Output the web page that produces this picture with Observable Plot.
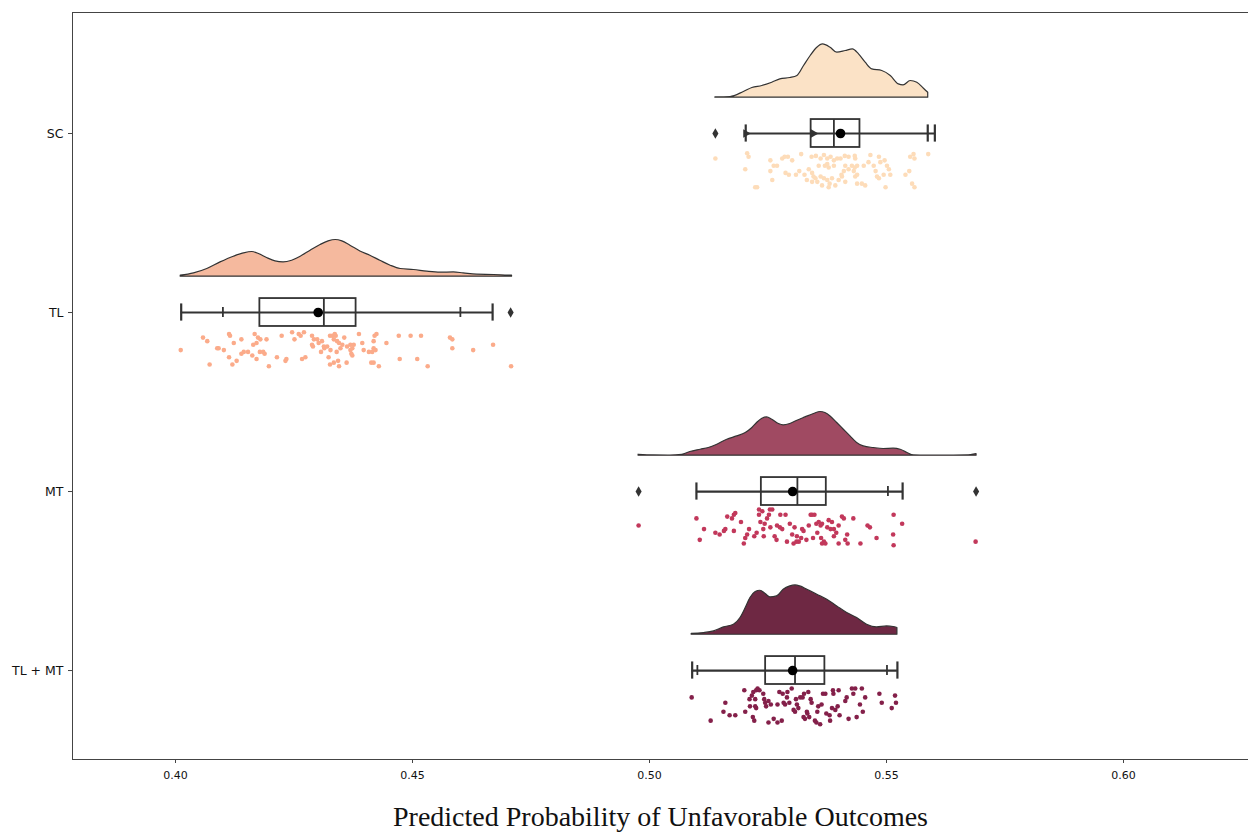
<!DOCTYPE html>
<html><head><meta charset="utf-8">
<script src="https://cdn.jsdelivr.net/npm/d3@7"></script>
<script src="https://cdn.jsdelivr.net/npm/@observablehq/plot@0.6"></script>
<style>body{margin:0;background:#fff;}</style>
</head><body><div id="chart"></div>
<script>
const categories = ["SC", "TL", "MT", "TL + MT"];
const violinFills = ["#fbe2c6", "#f5b99e", "#a04a62", "#6e2843"];
const dotColors = ["#fddcb9", "#fbab8a", "#c2385b", "#84204a"];
const xTicks = [0.40, 0.45, 0.50, 0.55, 0.60];
const xLabel = "Predicted Probability of Unfavorable Outcomes";

// box statistics
const q1 = [0.5341, 0.4178, 0.5236, 0.5245];
const median = [0.5389, 0.4313, 0.5312, 0.5307];
const q3 = [0.5444, 0.4381, 0.5373, 0.5370];
const mean = [0.5403, 0.4301, 0.5302, 0.5302];
const whiskerLow = [0.5203, 0.4012, 0.5099, 0.5090];
const whiskerHigh = [0.5602, 0.4669, 0.5534, 0.5523];
const secondCaps = [["SC", 0.5587]];
const innerTicks = [["TL", 0.4100], ["TL", 0.4601], ["MT", 0.5503], ["TL + MT", 0.5101], ["TL + MT", 0.5501]];
const outliers = [["SC", 0.5139], ["TL", 0.4707], ["MT", 0.4977], ["MT", 0.5689]];
const triangleMarks = [["SC", 0.5203], ["SC", 0.5346]];

// half-violin density curves [value, density]
const scDensity = [[0.5139,0.3],[0.5171,0.7],[0.5199,5.7],[0.5217,9.7],[0.5238,11.7],[0.5259,15],[0.5276,18.3],[0.5297,19.7],[0.5312,21.7],[0.5326,31.7],[0.5340,41.7],[0.5354,50],[0.5366,53.3],[0.5382,50],[0.5396,45],[0.5414,46.7],[0.5429,48.3],[0.5442,43.3],[0.5456,35],[0.5470,28.3],[0.5491,26.7],[0.5509,21.7],[0.5526,13.3],[0.5536,12.3],[0.5551,16.7],[0.5565,15],[0.5579,9],[0.5588,5]];
const tlDensity = [[0.4011,1],[0.4039,3.3],[0.4067,7.7],[0.4095,14.3],[0.4123,20],[0.4144,23.3],[0.4162,24.7],[0.4176,22.7],[0.4193,18.7],[0.4211,15.3],[0.4228,14.3],[0.4246,16],[0.4264,20],[0.4285,26],[0.4306,31.7],[0.4323,35.3],[0.4338,36.7],[0.4352,35.3],[0.4369,31],[0.4390,25.3],[0.4411,21],[0.4432,16],[0.4454,11],[0.4475,7.7],[0.4503,6.7],[0.4531,5],[0.4559,4],[0.4587,4.3],[0.4608,3.3],[0.4636,2],[0.4672,1.7],[0.4710,1]];
const mtDensity = [[0.4977,1],[0.5009,0.3],[0.5044,0.2],[0.5069,1],[0.5086,3.7],[0.5108,6],[0.5125,7.7],[0.5143,11],[0.5164,16],[0.5185,19.3],[0.5203,22.7],[0.5217,27.7],[0.5227,32.7],[0.5238,37],[0.5248,38.3],[0.5259,36],[0.5273,31.7],[0.5283,30.3],[0.5297,31.7],[0.5312,35],[0.5329,38.3],[0.5347,41.7],[0.5361,43.7],[0.5371,42.7],[0.5382,39.3],[0.5396,32.7],[0.5410,26],[0.5424,19.3],[0.5438,12.7],[0.5452,9.3],[0.5473,7.7],[0.5494,6.7],[0.5515,7],[0.5530,6],[0.5544,2.7],[0.5558,0.3],[0.5572,0.2],[0.5607,0.2],[0.5642,0.2],[0.5670,0.3],[0.5690,1.7]];
const tlmtDensity = [[0.5089,1],[0.5115,1.7],[0.5136,3.3],[0.5157,7.3],[0.5178,10],[0.5192,16.7],[0.5203,26.7],[0.5213,36.7],[0.5224,42.7],[0.5234,44],[0.5245,40.7],[0.5255,37.3],[0.5269,38.3],[0.5283,45],[0.5297,48.3],[0.5308,49.3],[0.5318,48.3],[0.5333,45],[0.5354,40],[0.5375,35],[0.5396,28.3],[0.5417,21.7],[0.5438,16.7],[0.5459,10],[0.5480,7.3],[0.5501,8.3],[0.5515,7.7],[0.5523,6.7]];

// strip points [value, jitter]
const scPoints = [[0.5139,0.14],[0.5206,0.11],[0.5209,0.13],[0.5202,0.20],[0.5227,0.30],[0.5223,0.30],[0.5255,0.15],[0.5262,0.18],[0.5269,0.18],[0.5255,0.21],[0.5259,0.26],[0.5280,0.14],[0.5285,0.13],[0.5292,0.13],[0.5301,0.15],[0.5287,0.22],[0.5294,0.23],[0.5309,0.23],[0.5320,0.115],[0.5316,0.21],[0.5342,0.13],[0.5351,0.125],[0.5361,0.14],[0.5368,0.12],[0.5375,0.14],[0.5382,0.13],[0.5389,0.15],[0.5396,0.14],[0.5403,0.14],[0.5412,0.125],[0.5420,0.13],[0.5433,0.125],[0.5434,0.14],[0.5357,0.18],[0.5370,0.18],[0.5375,0.17],[0.5378,0.19],[0.5389,0.18],[0.5336,0.20],[0.5343,0.22],[0.5346,0.24],[0.5350,0.25],[0.5354,0.27],[0.5343,0.27],[0.5332,0.26],[0.5327,0.23],[0.5361,0.24],[0.5368,0.25],[0.5375,0.26],[0.5380,0.28],[0.5385,0.25],[0.5364,0.29],[0.5378,0.30],[0.5392,0.29],[0.5399,0.26],[0.5405,0.23],[0.5410,0.21],[0.5413,0.18],[0.5420,0.20],[0.5427,0.18],[0.5433,0.19],[0.5438,0.18],[0.5431,0.21],[0.5434,0.24],[0.5438,0.23],[0.5413,0.27],[0.5406,0.24],[0.5438,0.28],[0.5448,0.28],[0.5455,0.29],[0.5452,0.18],[0.5462,0.16],[0.5466,0.12],[0.5473,0.18],[0.5477,0.21],[0.5480,0.24],[0.5484,0.13],[0.5487,0.16],[0.5496,0.15],[0.5501,0.18],[0.5505,0.20],[0.5508,0.23],[0.5494,0.23],[0.5484,0.25],[0.5498,0.30],[0.5540,0.23],[0.5548,0.21],[0.5550,0.13],[0.5557,0.115],[0.5559,0.14],[0.5554,0.28],[0.5559,0.30],[0.5588,0.115]];
const tlPoints = [[0.4011,0.21],[0.4058,0.14],[0.4067,0.16],[0.4072,0.29],[0.4088,0.20],[0.4091,0.20],[0.4102,0.21],[0.4113,0.12],[0.4115,0.13],[0.4113,0.25],[0.4123,0.17],[0.4120,0.29],[0.4129,0.27],[0.4139,0.15],[0.4139,0.23],[0.4144,0.22],[0.4153,0.22],[0.4162,0.24],[0.4164,0.18],[0.4167,0.12],[0.4171,0.17],[0.4174,0.14],[0.4179,0.15],[0.4178,0.22],[0.4185,0.22],[0.4188,0.23],[0.4171,0.26],[0.4192,0.15],[0.4197,0.30],[0.4214,0.25],[0.4224,0.13],[0.4234,0.26],[0.4232,0.27],[0.4246,0.11],[0.4251,0.15],[0.4260,0.12],[0.4264,0.13],[0.4271,0.11],[0.4267,0.26],[0.4274,0.25],[0.4288,0.13],[0.4292,0.15],[0.4299,0.15],[0.4290,0.19],[0.4288,0.18],[0.4302,0.17],[0.4309,0.16],[0.4313,0.19],[0.4314,0.20],[0.4307,0.22],[0.4320,0.19],[0.4326,0.13],[0.4331,0.13],[0.4334,0.15],[0.4338,0.13],[0.4336,0.12],[0.4341,0.16],[0.4345,0.17],[0.4348,0.20],[0.4352,0.18],[0.4356,0.14],[0.4362,0.19],[0.4369,0.18],[0.4373,0.20],[0.4376,0.18],[0.4369,0.21],[0.4371,0.23],[0.4373,0.24],[0.4340,0.22],[0.4327,0.21],[0.4323,0.25],[0.4326,0.29],[0.4334,0.28],[0.4345,0.30],[0.4343,0.27],[0.4361,0.28],[0.4387,0.12],[0.4394,0.17],[0.4397,0.21],[0.4408,0.22],[0.4415,0.22],[0.4418,0.16],[0.4420,0.13],[0.4424,0.12],[0.4418,0.20],[0.4422,0.21],[0.4413,0.28],[0.4418,0.28],[0.4429,0.30],[0.4445,0.17],[0.4471,0.13],[0.4473,0.26],[0.4496,0.13],[0.4510,0.26],[0.4518,0.13],[0.4532,0.30],[0.4579,0.14],[0.4584,0.15],[0.4584,0.20],[0.4628,0.21],[0.4670,0.18],[0.4708,0.30]];
const mtPoints = [[0.4977,0.19],[0.5099,0.15],[0.5106,0.27],[0.5115,0.21],[0.5139,0.23],[0.5148,0.24],[0.5157,0.22],[0.5160,0.21],[0.5164,0.14],[0.5174,0.15],[0.5178,0.13],[0.5181,0.12],[0.5178,0.22],[0.5193,0.17],[0.5202,0.26],[0.5206,0.24],[0.5210,0.21],[0.5199,0.29],[0.5221,0.25],[0.5226,0.23],[0.5231,0.13],[0.5231,0.10],[0.5238,0.11],[0.5234,0.17],[0.5240,0.21],[0.5243,0.18],[0.5241,0.25],[0.5248,0.15],[0.5252,0.13],[0.5254,0.10],[0.5259,0.10],[0.5255,0.20],[0.5264,0.25],[0.5268,0.27],[0.5269,0.19],[0.5275,0.20],[0.5280,0.21],[0.5276,0.13],[0.5287,0.13],[0.5290,0.28],[0.5296,0.18],[0.5301,0.24],[0.5306,0.20],[0.5304,0.29],[0.5310,0.28],[0.5315,0.28],[0.5311,0.25],[0.5322,0.21],[0.5325,0.22],[0.5320,0.26],[0.5331,0.27],[0.5336,0.19],[0.5340,0.13],[0.5343,0.13],[0.5348,0.13],[0.5345,0.26],[0.5352,0.18],[0.5354,0.23],[0.5357,0.17],[0.5361,0.19],[0.5364,0.18],[0.5362,0.26],[0.5368,0.28],[0.5364,0.29],[0.5371,0.29],[0.5375,0.20],[0.5378,0.16],[0.5382,0.21],[0.5385,0.17],[0.5389,0.25],[0.5389,0.21],[0.5394,0.23],[0.5399,0.19],[0.5399,0.29],[0.5406,0.14],[0.5410,0.15],[0.5413,0.27],[0.5417,0.24],[0.5418,0.29],[0.5430,0.15],[0.5445,0.29],[0.5460,0.19],[0.5465,0.20],[0.5479,0.26],[0.5515,0.13],[0.5514,0.24],[0.5515,0.30],[0.5533,0.18],[0.5688,0.28]];
const tlmtPoints = [[0.5089,0.15],[0.5129,0.28],[0.5156,0.23],[0.5160,0.18],[0.5169,0.25],[0.5181,0.25],[0.5202,0.23],[0.5200,0.11],[0.5211,0.16],[0.5212,0.20],[0.5216,0.14],[0.5218,0.26],[0.5221,0.28],[0.5219,0.12],[0.5223,0.16],[0.5225,0.11],[0.5228,0.10],[0.5232,0.11],[0.5225,0.21],[0.5223,0.20],[0.5240,0.13],[0.5242,0.16],[0.5244,0.18],[0.5246,0.20],[0.5251,0.17],[0.5251,0.29],[0.5256,0.19],[0.5262,0.27],[0.5270,0.29],[0.5270,0.19],[0.5274,0.12],[0.5279,0.28],[0.5281,0.13],[0.5283,0.18],[0.5286,0.19],[0.5290,0.15],[0.5291,0.12],[0.5300,0.10],[0.5295,0.18],[0.5304,0.22],[0.5307,0.23],[0.5309,0.16],[0.5311,0.19],[0.5314,0.21],[0.5318,0.15],[0.5323,0.15],[0.5326,0.13],[0.5325,0.26],[0.5328,0.27],[0.5332,0.23],[0.5333,0.24],[0.5335,0.12],[0.5337,0.26],[0.5340,0.16],[0.5342,0.18],[0.5349,0.28],[0.5352,0.29],[0.5354,0.23],[0.5356,0.20],[0.5360,0.30],[0.5363,0.19],[0.5366,0.13],[0.5371,0.13],[0.5373,0.24],[0.5380,0.25],[0.5381,0.28],[0.5385,0.21],[0.5387,0.11],[0.5388,0.13],[0.5392,0.22],[0.5397,0.20],[0.5399,0.11],[0.5401,0.25],[0.5413,0.17],[0.5416,0.15],[0.5420,0.27],[0.5427,0.10],[0.5430,0.13],[0.5434,0.10],[0.5437,0.26],[0.5444,0.19],[0.5448,0.10],[0.5450,0.23],[0.5455,0.15],[0.5485,0.13],[0.5490,0.18],[0.5511,0.21],[0.5518,0.14],[0.5520,0.18]];

// layout constants (category units)
const VIOLIN_BASE = -0.2, DENS_K = 1 / 179, BOX_HALF = 0.078, CAP_HALF = 0.048, TICK_HALF = 0.028;

const densities = [scDensity, tlDensity, mtDensity, tlmtDensity];
const pointsAll = [scPoints, tlPoints, mtPoints, tlmtPoints];
const groups = categories.map((c, i) => ({cat: c, idx: i, q1: q1[i], median: median[i], q3: q3[i], mean: mean[i], lo: whiskerLow[i], hi: whiskerHigh[i]}));
const idxOf = c => categories.indexOf(c);

const marks = [];
densities.forEach((dens, i) => {
  const data = dens.map(([x, d]) => ({x, d, idx: i}));
  marks.push(Plot.areaY(data, {x: "x", y1: d => d.idx + VIOLIN_BASE, y2: d => d.idx + VIOLIN_BASE - d.d * DENS_K,
    fill: violinFills[i], stroke: "#333", strokeWidth: 1.2, curve: "monotone-x"}));
});
pointsAll.forEach((pts, i) => {
  marks.push(Plot.dot(pts.map(([v, j]) => ({v, j, idx: i})), {x: "v", y: d => d.idx + d.j, r: 2.3, fill: dotColors[i], stroke: "none"}));
});
marks.push(
  Plot.ruleY(groups, {x1: "lo", x2: "hi", y: "idx", stroke: "#333", strokeWidth: 2.2}),
  Plot.ruleX(groups, {x: "lo", y1: d => d.idx - CAP_HALF, y2: d => d.idx + CAP_HALF, stroke: "#333", strokeWidth: 2.2}),
  Plot.ruleX(groups, {x: "hi", y1: d => d.idx - CAP_HALF, y2: d => d.idx + CAP_HALF, stroke: "#333", strokeWidth: 2.2}),
  Plot.ruleX(secondCaps, {x: d => d[1], y1: d => idxOf(d[0]) - CAP_HALF, y2: d => idxOf(d[0]) + CAP_HALF, stroke: "#333", strokeWidth: 2.2}),
  Plot.ruleX(innerTicks, {x: d => d[1], y1: d => idxOf(d[0]) - TICK_HALF, y2: d => idxOf(d[0]) + TICK_HALF, stroke: "#333", strokeWidth: 1.8}),
  Plot.rect(groups, {x1: "q1", x2: "q3", y1: d => d.idx - BOX_HALF, y2: d => d.idx + BOX_HALF, fill: "none", stroke: "#333", strokeWidth: 1.8}),
  Plot.ruleX(groups, {x: "median", y1: d => d.idx - BOX_HALF, y2: d => d.idx + BOX_HALF, stroke: "#333", strokeWidth: 1.8}),
  Plot.dot(triangleMarks, {x: d => d[1], y: d => idxOf(d[0]), symbol: "triangle", rotate: 90, r: 3.2, fill: "#333"}),
  Plot.dot(groups, {x: "mean", y: "idx", r: 4.8, fill: "#000"}),
  Plot.dot(outliers, {x: d => d[1], y: d => idxOf(d[0]), symbol: "diamond", r: 3.2, fill: "#333"}),
  Plot.frame({anchor: "left", stroke: "#444"}),
  Plot.frame({anchor: "top", stroke: "#444"}),
  Plot.frame({anchor: "bottom", stroke: "#444"}),
  Plot.axisX({ticks: xTicks, tickFormat: d3.format(".2f"), tickSize: 4, tickPadding: 8, label: null, stroke: "#444"}),
  Plot.axisY({ticks: [0, 1, 2, 3], tickFormat: i => categories[i], tickSize: 4, tickPadding: 5, label: null, stroke: "#444", fontSize: 12.5}),
  Plot.text([xLabel], {frameAnchor: "bottom", dy: 66, fontFamily: "Liberation Serif, serif", fontSize: 28, fill: "#111"})
);

const chart = Plot.plot({
  width: 1248, height: 832,
  marginLeft: 72, marginTop: 12, marginBottom: 73, marginRight: 0,
  style: {fontFamily: "DejaVu Sans, sans-serif", fontSize: "11px", background: "#fff", color: "#111"},
  x: {domain: [0.37827, 0.62637]},
  y: {domain: [-0.676, 3.497], reverse: true},
  marks
});
document.getElementById("chart").appendChild(chart);
</script>
</body></html>
